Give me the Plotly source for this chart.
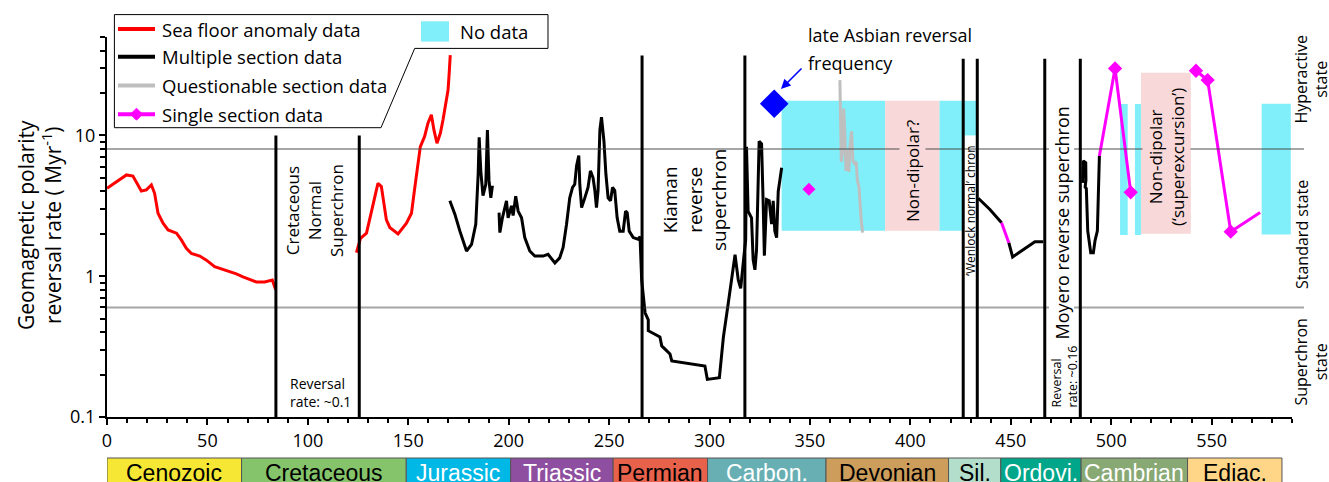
import math
import plotly.graph_objects as go

# ---------------- data ----------------
sea_floor_age_1 = [0, 4.7, 9.7, 12.9, 15.4, 17.1, 19.6, 22.1, 23.7, 25.4, 27.9, 30.4, 34.6, 37.0, 39.5,
                   42.0, 46.2, 49.5, 53.6, 57.8, 61.1, 64.4, 67.7, 71.1, 74.4, 78.5, 81.0, 82.3, 84.0]
sea_floor_rate_1 = [4.21, 4.69, 5.24, 5.14, 4.45, 4.03, 4.10, 4.45, 3.88, 2.80, 2.38, 2.13, 2.02, 1.81, 1.58,
                    1.45, 1.39, 1.30, 1.17, 1.12, 1.08, 1.04, 0.99, 0.95, 0.91, 0.91, 0.93, 0.94, 0.80]

sea_floor_age_2 = [124.2, 126.2, 129.2, 132.4, 134.9, 136.6, 139.1, 140.8, 144.9, 149.1, 151.6, 153.1, 154.8,
                   156.0, 158.1, 159.8, 161.5, 162.8, 164.3, 166.0, 167.3, 168.6, 169.8, 170.4, 170.9]
sea_floor_rate_2 = [1.47, 1.86, 2.02, 3.21, 4.57, 4.33, 2.51, 2.22, 2.00, 2.38, 2.80, 4.10, 6.34,
                    8.32, 9.8, 12.2, 14.0, 10.9, 8.8, 10.4, 12.9, 17.0, 21.0, 28.0, 37.2]

multi_age_1 = [170.7, 173.2, 175.7, 179.0, 181.5, 183.6, 184.8, 185.3, 186.1, 187.2, 188.6, 189.4, 190.2, 191.1, 191.9]
multi_rate_1 = [3.43, 2.76, 2.09, 1.51, 1.68, 2.34, 5.32, 9.7, 5.6, 3.73, 4.5, 10.9, 4.77, 3.6, 4.4]

multi_age_2 = [195.2, 195.6, 196.9, 198.9, 199.7, 201.4, 202.2, 203.5, 204.7, 206.4, 208.0, 210.5, 213.0,
               217.1, 219.6, 223.0, 225.4, 227.1, 228.8, 230.4, 231.8, 232.9, 233.8, 234.9, 235.4, 236.3,
               237.9, 239.5, 240.7, 242.0, 242.9, 243.7, 244.5, 245.4, 246.2, 247.4, 248.4, 249.5, 250.7,
               251.7, 252.8, 254.0, 255.3, 257.0, 258.2, 259.0, 260.0, 262.0, 264.4, 265.4, 266.2, 267.9,
               269.5, 269.5, 275.3, 276.2, 280.3, 281.2, 297.7, 298.9, 304.9, 306.9, 309.3, 311.0, 312.7,
               314.3, 315.5, 317.1, 318.0, 318.4, 319.2, 320.9, 321.7, 322.6, 323.4, 324.7, 325.9, 326.7,
               327.3, 328.4, 329.7, 330.9, 331.7, 332.5, 333.4, 334.2, 335.0, 335.9]
multi_rate_2 = [2.83, 2.04, 2.61, 3.43, 2.60, 3.16, 2.70, 3.70, 2.90, 2.60, 1.88, 1.51, 1.39,
                1.39, 1.43, 1.24, 1.35, 1.60, 2.34, 3.60, 4.27, 4.50, 6.10, 7.20, 4.50, 3.07,
                3.60, 4.27, 5.60, 5.00, 4.06, 3.07, 4.06, 10.9, 13.5, 9.2, 5.3, 3.6, 3.43,
                4.27, 4.06, 2.60, 2.09, 2.09, 2.90, 2.83, 2.09, 1.88, 1.83, 1.91, 0.94, 0.55,
                0.49, 0.41, 0.37, 0.32, 0.28, 0.25, 0.23, 0.185, 0.19, 0.37, 0.64, 0.99, 1.42,
                0.94, 0.82, 1.38, 1.81, 8.3, 2.9, 2.6, 1.31, 1.11, 1.54, 9.1, 8.7, 3.3,
                1.40, 3.5, 3.43, 2.34, 3.43, 2.09, 1.88, 4.0, 5.0, 5.9]

multi_age_3 = [433.8, 439.6, 445.4]
multi_rate_3 = [3.58, 2.98, 2.40]
multi_age_4 = [449.0, 450.9, 462.0, 466.1]
multi_rate_4 = [1.73, 1.37, 1.76, 1.76]
multi_age_5 = [485.8, 486.1, 487.3, 487.4, 487.0, 487.6, 488.3, 489.8, 491.1, 491.9, 493.1, 494.1]
multi_rate_5 = [4.6, 6.6, 6.4, 4.8, 4.3, 4.2, 2.1, 1.47, 1.47, 1.78, 2.1, 7.15]

quest_age = [364.9, 365.3, 365.6, 366.3, 366.8, 367.4, 367.9, 368.5, 369.0, 369.4, 370.0, 370.7,
             371.4, 372.3, 373.0, 373.6, 374.4, 374.9, 375.5, 376.2]
quest_rate = [24.7, 14.0, 6.5, 8.0, 15.5, 10.0, 5.6, 8.0, 6.8, 5.5, 8.5, 10.7,
              6.6, 6.3, 6.5, 4.8, 4.3, 3.1, 2.5, 2.04]

single_age_1 = [445.4, 449.0]
single_rate_1 = [2.40, 1.73]
single_age_2 = [494.1, 501.9, 509.7]
single_rate_2 = [7.15, 29.9, 3.94]
single_age_3 = [542.2, 548.0, 559.5, 574.1]
single_rate_3 = [28.8, 24.7, 2.07, 2.83]
single_point_age = [349.5]
single_point_rate = [4.14]

asbian_age = [332.2]
asbian_rate = [16.8]

no_data_start = [335.9, 414.4, 426.3, 504.4, 511.8, 574.9]
no_data_end = [387.4, 426.3, 432.7, 508.2, 514.8, 589.4]
no_data_low = [2.1, 2.1, 10.0, 1.96, 1.96, 1.98]
no_data_high = [17.6, 17.6, 17.6, 16.7, 16.7, 16.8]

nondipolar_start = [387.4, 514.8]
nondipolar_end = [414.4, 539.6]
nondipolar_low = [2.1, 2.0]
nondipolar_high = [17.6, 27.9]

boundary_age = [84.1, 125.6, 266.4, 317.6, 426.3, 433.3, 466.9, 484.6]
boundary_top = [10, 10, 37, 37, 35, 35, 35, 35]

state_levels = [8.0, 0.6]

era_names = ["Cenozoic", "Cretaceous", "Jurassic", "Triassic", "Permian", "Carbon.",
             "Devonian", "Sil.", "Ordovi.", "Cambrian", "Ediac."]
era_start = [0, 67, 149, 201, 252, 299, 358, 419, 445, 485, 538]
era_end = [67, 149, 201, 252, 299, 358, 419, 445, 485, 538, 585]
era_colors = ["#F5E733", "#85C46B", "#00B8E6", "#8F4FA0", "#E8614B", "#68AFB4",
              "#CC9D5B", "#B3DECB", "#00A68A", "#88A874", "#FFD687"]
era_text_colors = ["black", "black", "white", "white", "black", "white",
                   "black", "black", "white", "white", "black"]

x_ticks = [0, 50, 100, 150, 200, 250, 300, 350, 400, 450, 500, 550]

# ---------------- layout geometry ----------------
W, H = 1329, 482
ML, MR, MT, MB = 107, 37, 37, 65
PW = W - ML - MR
PH = H - MT - MB
X_RANGE = [0, 590]
Y_RANGE = [-1, math.log10(50)]

def px(x):
    return (x - ML) / PW

def py(y):
    return (H - MB - y) / PH

def vy(v):
    return (math.log10(v) - Y_RANGE[0]) / (Y_RANGE[1] - Y_RANGE[0])

FONT = "Open Sans"
RED, BLACK, GREY, MAG = "#FF0000", "#000000", "#BFBFBF", "#FF00FF"
CYAN, PINK = "#80EFFA", "#F8D8D8"

fig = go.Figure()

def rect_trace(x0, x1, y0, y1, color):
    fig.add_trace(go.Scatter(x=[x0, x1, x1, x0, x0], y=[y0, y0, y1, y1, y0], mode="lines",
                             fill="toself", fillcolor=color, line=dict(width=0, color=color),
                             hoverinfo="skip", showlegend=False))

for a, b, lo, hi in zip(no_data_start, no_data_end, no_data_low, no_data_high):
    rect_trace(a, b, lo, hi, CYAN)
for a, b, lo, hi in zip(nondipolar_start, nondipolar_end, nondipolar_low, nondipolar_high):
    rect_trace(a, b, lo, hi, PINK)

def line_trace(xs, ys, color, width=3):
    fig.add_trace(go.Scatter(x=xs, y=ys, mode="lines", line=dict(color=color, width=width),
                             showlegend=False, hoverinfo="skip"))

line_trace(quest_age, quest_rate, GREY)
line_trace(sea_floor_age_1, sea_floor_rate_1, RED)
line_trace(sea_floor_age_2, sea_floor_rate_2, RED)
for xs, ys in [(multi_age_1, multi_rate_1), (multi_age_2, multi_rate_2), (multi_age_3, multi_rate_3),
               (multi_age_4, multi_rate_4), (multi_age_5, multi_rate_5)]:
    line_trace(xs, ys, BLACK)
line_trace(single_age_1, single_rate_1, MAG)
line_trace(single_age_2, single_rate_2, MAG)
line_trace(single_age_3, single_rate_3, MAG)

# diamonds on the measured single-section points
fig.add_trace(go.Scatter(x=single_age_2[1:], y=single_rate_2[1:], mode="markers",
                         marker=dict(symbol="diamond", size=11, color=MAG), showlegend=False, hoverinfo="skip"))
fig.add_trace(go.Scatter(x=single_age_3[:3], y=single_rate_3[:3], mode="markers",
                         marker=dict(symbol="diamond", size=11, color=MAG), showlegend=False, hoverinfo="skip"))
fig.add_trace(go.Scatter(x=single_point_age, y=single_point_rate, mode="markers",
                         marker=dict(symbol="diamond", size=10, color=MAG), showlegend=False, hoverinfo="skip"))
fig.add_trace(go.Scatter(x=asbian_age, y=asbian_rate, mode="markers",
                         marker=dict(symbol="diamond", size=22, color="#0000FF"), showlegend=False, hoverinfo="skip"))

shapes = []
# state level lines
for lvl in state_levels:
    shapes.append(dict(type="line", xref="paper", yref="paper", x0=0, x1=px(1304), y0=vy(lvl), y1=vy(lvl),
                       line=dict(color="rgba(70,70,70,0.48)", width=2), layer="above"))
# superchron boundaries
for a, top in zip(boundary_age, boundary_top):
    shapes.append(dict(type="line", xref="x", yref="paper", x0=a, x1=a, y0=0, y1=vy(top),
                       line=dict(color="black", width=3), layer="above"))
# era bar
for a, b, c in zip(era_start, era_end, era_colors):
    shapes.append(dict(type="rect", xref="x", yref="paper", x0=a, x1=b, y0=py(495), y1=py(458),
                       fillcolor=c, line=dict(color="#555555", width=1), layer="above"))

# legend box (notched)
pts = [(114.4, 14.6), (548, 14.6), (548, 48.4), (414.7, 48.4), (381, 127.7), (114.4, 127.7)]
path = "M " + " L ".join(f"{px(x):.5f},{py(y):.5f}" for x, y in pts) + " Z"
shapes.append(dict(type="path", xref="paper", yref="paper", path=path, fillcolor="white",
                   line=dict(color="black", width=1), layer="above"))
leg_items = [("Sea floor anomaly data", RED, 29.1), ("Multiple section data", BLACK, 56.8),
             ("Questionable section data", GREY, 85.5), ("Single section data", MAG, 114.2)]
for _, col, yy in leg_items:
    shapes.append(dict(type="line", xref="paper", yref="paper", x0=px(118), x1=px(155), y0=py(yy), y1=py(yy),
                       line=dict(color=col, width=4), layer="above"))
dcx, dcy, dr = 136.5, 114.2, 6
shapes.append(dict(type="path", xref="paper", yref="paper",
                   path=f"M {px(dcx-dr)},{py(dcy)} L {px(dcx)},{py(dcy-dr)} L {px(dcx+dr)},{py(dcy)} L {px(dcx)},{py(dcy+dr)} Z",
                   fillcolor=MAG, line=dict(color=MAG, width=1), layer="above"))
shapes.append(dict(type="rect", xref="paper", yref="paper", x0=px(421), x1=px(449), y0=py(41.6), y1=py(21.3),
                   fillcolor=CYAN, line=dict(width=0), layer="above"))

ann = []
def text(xp, yp, t, size, angle=0, xanchor="center", align="center", bg=None, family=FONT, color="black", pad=1):
    d = dict(xref="paper", yref="paper", x=px(xp), y=py(yp), text=t, showarrow=False, textangle=angle,
             xanchor=xanchor, yanchor="middle", align=align, borderpad=pad,
             font=dict(family=family, size=size, color=color))
    if bg:
        d["bgcolor"] = bg
    ann.append(d)

for label, _, yy in leg_items:
    text(160, yy, label, 18.5, xanchor="left")
text(458, 31.5, "No data", 18.5, xanchor="left")

text(39, 225, "Geomagnetic polarity<br>reversal rate ( Myr<sup>-1</sup>)", 21, angle=-90)
text(314, 211, "Cretaceous<br>Normal<br>Superchron", 17, angle=-90)
text(288, 392, "Reversal<br>rate: ~0.1", 14, xanchor="left", align="left")
text(694, 200, "Kiaman<br>reverse<br>superchron", 19, angle=-90)
text(806, 35, "late Asbian reversal", 18, xanchor="left")
text(806, 63, "frequency", 18, xanchor="left")
text(912, 171, "Non-dipolar?", 17, angle=-90, bg=PINK)
text(970, 211, "‘Wenlock normal’ chron", 12, angle=-90)
text(1061.5, 223, "Moyero reverse superchron", 18, angle=-90, bg="white", pad=0)
text(1063.5, 377, "Reversal<br>rate: ~0.16", 12.5, angle=-90, align="left")
text(1166, 157, "Non-dipolar<br>(‘superexcursion’)", 17, angle=-90, bg=PINK)
text(1310.5, 80, "Hyperactive<br>state", 16, angle=-90)
text(1302, 234, "Standard state", 16, angle=-90)
text(1310.5, 362, "Superchron<br>state", 16, angle=-90)

# arrow to the late Asbian diamond
ann.append(dict(xref="paper", yref="paper", x=px(781), y=py(89), ax=22, ay=-22, text="", showarrow=True,
                arrowhead=2, arrowsize=1.2, arrowwidth=1.6, arrowcolor="#0000FF"))

for name, a, b, tc in zip(era_names, era_start, era_end, era_text_colors):
    ann.append(dict(xref="x", yref="paper", x=(a + b) / 2, y=py(473), text=name, showarrow=False,
                    xanchor="center", yanchor="middle",
                    font=dict(family="Liberation Sans", size=23, color=tc)))

fig.update_layout(
    width=W, height=H, margin=dict(l=ML, r=MR, t=MT, b=MB, pad=0),
    paper_bgcolor="white", plot_bgcolor="white", showlegend=False,
    shapes=shapes, annotations=ann,
    xaxis=dict(range=X_RANGE, showline=True, linecolor="black", linewidth=2, showgrid=False, zeroline=False,
               tickmode="array", tickvals=x_ticks, ticktext=[str(t) for t in x_ticks],
               ticks="outside", ticklen=6, tickwidth=2, tickcolor="black",
               minor=dict(dtick=10, tick0=0, ticks="outside", ticklen=4, tickwidth=1.5, tickcolor="black"),
               tickfont=dict(family=FONT, size=18, color="black")),
    yaxis=dict(type="log", range=Y_RANGE, showline=True, linecolor="black", linewidth=2, showgrid=False,
               zeroline=False, dtick=1, ticks="outside", ticklen=6, tickwidth=2, tickcolor="black",
               minor=dict(dtick="D1", ticks="outside", ticklen=5, tickwidth=1.5, tickcolor="black"),
               tickfont=dict(family=FONT, size=18, color="black")),
)

fig.write_html("out.html")
